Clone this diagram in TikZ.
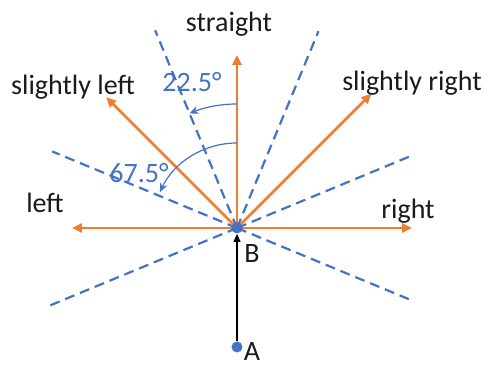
\documentclass[tikz,border=0pt]{standalone}
\usepackage{fontspec}
\setmainfont{Carlito}
\usepackage{tikz}
\usetikzlibrary{arrows.meta}
\definecolor{DirOrange}{HTML}{ED7D31}
\definecolor{DirBlue}{HTML}{4472C4}
\definecolor{DirText}{HTML}{1A1A1A}

\tikzset{
  dirarrow/.style={DirOrange,line width=1.25pt,-{Triangle[length=5pt,width=4.5pt]}},
  sector/.style={DirBlue,line width=1.1pt,dash pattern=on 5pt off 3pt},
  anglearc/.style={DirBlue,line width=0.6pt,-{Stealth[length=4.5pt,width=4pt]}},
  dirlabel/.style={font=\fontsize{14}{16}\selectfont,text=DirText,inner sep=0pt},
  anglelabel/.style={font=\fontsize{14}{16}\selectfont,text=DirBlue,inner sep=0pt},
  waypoint/.style={circle,fill=DirBlue,minimum size=5.5pt,inner sep=0pt}
}

\begin{document}
\begin{tikzpicture}[x=0.5pt,y=0.5pt]
  \useasboundingbox (-237,-139) rectangle (251,228);
  \coordinate (B) at (0,0);
  % sector borders
  \foreach \ang/\len [count=\i] in {22.5/190,67.5/213,112.5/214,157.5/200,202.5/205,337.5/188}{
    \coordinate (border\i) at (\ang:\len);
    \draw[sector] (B) -- (border\i);
  }
  % possible directions
  \foreach \ang/\len/\dirname in {90/173/straight,0/175/right,180/165/left,45/190/sright,135/185/sleft}{
    \coordinate (\dirname) at (\ang:\len);
    \draw[dirarrow] (B) -- (\dirname);
  }
  \node[dirlabel] (straightlbl) at (-8,204) {straight};
  \node[dirlabel] (sleftlbl) at (-164,141) {slightly left};
  \node[dirlabel] (srightlbl) at (175,145) {slightly right};
  \node[dirlabel] (leftlbl) at (-192,25) {left};
  \node[dirlabel] (rightlbl) at (171,17) {right};
  % angles
  \coordinate (arcstartA) at (90:124);
  \coordinate (arcstartB) at (90:85);
  \draw[anglearc] (arcstartA) arc[start angle=90,end angle=112.5,radius=124];
  \draw[anglearc] (arcstartB) arc[start angle=90,end angle=155,radius=85];
  \node[anglelabel] (smallang) at (-45,146) {22.5°};
  \node[anglelabel] (bigang) at (-98,55) {67.5°};
  % the two points
  \node[waypoint] (Bdot) at (B) {};
  \node[waypoint] (A) at (0,-119) {};
  \draw[line width=0.6pt,-{Triangle[length=4pt,width=3.5pt]}] (A) -- (Bdot.south);
  \node[dirlabel] (Blbl) at (15,-26) {B};
  \node[dirlabel] (Albl) at (15,-124) {A};
\end{tikzpicture}
\end{document}
